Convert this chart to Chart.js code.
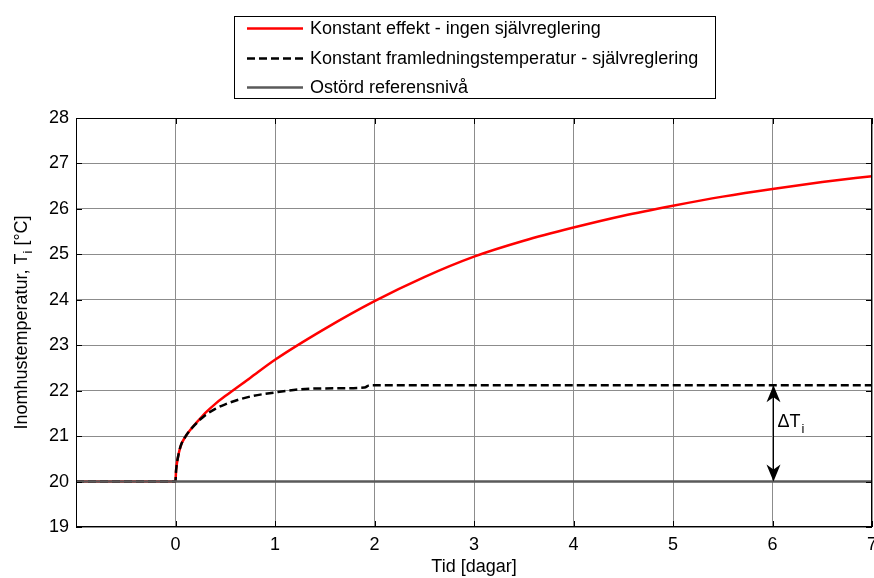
<!DOCTYPE html>
<html>
<head>
<meta charset="utf-8">
<title>Inomhustemperatur</title>
<script src="https://cdn.jsdelivr.net/npm/chart.js@4.4.1/dist/chart.umd.min.js"></script>
<style>
  html, body { margin: 0; padding: 0; background: #fff; }
  #wrap { width: 874px; height: 578px; }
</style>
</head>
<body>
<div id="wrap"><canvas id="chart" width="874" height="578"></canvas></div>
<script>
/* -------- DATA -------- */
const seriesLabels = [
    'Konstant effekt - ingen självreglering',
    'Konstant framledningstemperatur - självreglering',
    'Ostörd referensnivå'
];

// constant power, no self-regulation
const effektDays = [-1, 0, 0.005, 0.01, 0.02, 0.05, 0.1, 0.15, 0.2, 0.25, 0.3, 0.4, 0.5, 0.75, 1, 1.5, 2, 2.5, 3, 3.5, 4, 4.5, 5, 5.5, 6, 6.5, 7];
const effektTemp = [20, 20, 20.22, 20.33, 20.48, 20.77, 20.99, 21.14, 21.27, 21.39, 21.51, 21.71, 21.88, 22.28, 22.68, 23.36, 23.97, 24.5, 24.95, 25.3, 25.59, 25.85, 26.07, 26.27, 26.44, 26.59, 26.72];

// constant supply temperature, self-regulation
const framDays = [-1, 0, 0.005, 0.01, 0.02, 0.05, 0.1, 0.15, 0.2, 0.25, 0.3, 0.4, 0.5, 0.75, 1, 1.25, 1.5, 1.9, 1.95, 7];
const framTemp = [20, 20, 20.22, 20.33, 20.48, 20.77, 20.99, 21.14, 21.26, 21.37, 21.46, 21.6, 21.7, 21.87, 21.96, 22.03, 22.05, 22.07, 22.12, 22.12];

// undisturbed reference level
const refDays = [-1, 7];
const refTemp = [20, 20];

const xTicks = [0, 1, 2, 3, 4, 5, 6, 7];
const yTicks = [19, 20, 21, 22, 23, 24, 25, 26, 27, 28];

// delta T arrow
const deltaDay = 6;
const deltaLabelTemp = 21.3;

/* -------- STYLE -------- */
const FONT = '"Liberation Sans", Arial, sans-serif';
Chart.defaults.font.family = FONT;
Chart.defaults.font.size = 18;
Chart.defaults.color = '#000';

const toPoints = (xs, ys) => xs.map((d, i) => ({ x: d, y: ys[i] }));

/* -------- FRAME, LEGEND, LABELS -------- */
const decorations = {
    id: 'decorations',
    afterDatasetsDraw(chart) {
        const { ctx, chartArea: a, scales: { x, y } } = chart;
        ctx.save();

        // inner tick marks on all four sides
        ctx.strokeStyle = '#000';
        ctx.lineWidth = 1;
        ctx.beginPath();
        xTicks.forEach(v => {
            const px = Math.round(x.getPixelForValue(v)) + 0.5;
            ctx.moveTo(px, a.bottom); ctx.lineTo(px, a.bottom - 6);
            ctx.moveTo(px, a.top); ctx.lineTo(px, a.top + 6);
        });
        yTicks.forEach(v => {
            const py = Math.round(y.getPixelForValue(v)) + 0.5;
            ctx.moveTo(a.left, py); ctx.lineTo(a.left + 6, py);
            ctx.moveTo(a.right, py); ctx.lineTo(a.right - 6, py);
        });
        ctx.stroke();

        // axes box
        ctx.strokeRect(a.left + 0.5, a.top + 0.5, a.width - 1, a.height - 1);

        // double arrow between reference level and settled temperature
        const ax = Math.round(x.getPixelForValue(deltaDay)) + 0.5;
        const yLow = y.getPixelForValue(refTemp[0]);
        const yHigh = y.getPixelForValue(framTemp[framTemp.length - 1]);
        ctx.beginPath();
        ctx.moveTo(ax, yHigh + 10);
        ctx.lineTo(ax, yLow - 10);
        ctx.stroke();
        ctx.fillStyle = '#000';
        const head = (tip, dir) => {
            ctx.beginPath();
            ctx.moveTo(ax, tip);
            ctx.lineTo(ax - 7, tip + dir * 17);
            ctx.lineTo(ax, tip + dir * 12);
            ctx.lineTo(ax + 7, tip + dir * 17);
            ctx.closePath();
            ctx.fill();
        };
        head(yHigh, 1);
        head(yLow, -1);

        // delta label
        const ly = y.getPixelForValue(deltaLabelTemp);
        ctx.font = '18px ' + FONT;
        ctx.textBaseline = 'middle';
        ctx.textAlign = 'left';
        ctx.fillText('\u0394T', ax + 4, ly);
        const w = ctx.measureText('\u0394T').width;
        ctx.font = '13px ' + FONT;
        ctx.fillText('i', ax + 4 + w + 1, ly + 7);

        // y axis title with subscript
        ctx.save();
        ctx.translate(22, (a.top + a.bottom) / 2);
        ctx.rotate(-Math.PI / 2);
        const parts = [
            { t: 'Inomhustemperatur, T', f: '18px ' + FONT, dy: 0 },
            { t: 'i', f: '13px ' + FONT, dy: 6 },
            { t: ' [\u00B0C]', f: '18px ' + FONT, dy: 0 }
        ];
        let total = 0;
        parts.forEach(p => { ctx.font = p.f; p.w = ctx.measureText(p.t).width; total += p.w; });
        let cx = -total / 2;
        parts.forEach(p => {
            ctx.font = p.f;
            ctx.fillText(p.t, cx, p.dy);
            cx += p.w;
        });
        ctx.restore();

        // legend box
        const lx = 234.5, ltop = 16.5, lw = 481, lh = 82;
        ctx.fillStyle = '#fff';
        ctx.fillRect(lx, ltop, lw, lh);
        ctx.strokeStyle = '#000';
        ctx.lineWidth = 1;
        ctx.strokeRect(lx, ltop, lw, lh);
        const rows = [28, 58, 87];
        chart.data.datasets.forEach((ds, i) => {
            const ry = rows[i] + 0.5;
            ctx.strokeStyle = ds.borderColor;
            ctx.lineWidth = ds.borderWidth;
            ctx.setLineDash(ds.borderDash || []);
            ctx.beginPath();
            ctx.moveTo(247, ry);
            ctx.lineTo(303, ry);
            ctx.stroke();
            ctx.setLineDash([]);
            ctx.fillStyle = '#000';
            ctx.font = '18px ' + FONT;
            ctx.textBaseline = 'middle';
            ctx.fillText(ds.label, 310, rows[i] + 1);
        });

        ctx.restore();
    }
};

/* -------- CHART -------- */
new Chart(document.getElementById('chart'), {
    type: 'line',
    data: {
        datasets: [{
            label: seriesLabels[0],
            data: toPoints(effektDays, effektTemp),
            borderColor: '#ff0000',
            borderWidth: 2.5,
            cubicInterpolationMode: 'monotone',
            pointRadius: 0,
            order: 3
        }, {
            label: seriesLabels[1],
            data: toPoints(framDays, framTemp),
            borderColor: '#000000',
            borderWidth: 2.5,
            borderDash: [8, 4],
            cubicInterpolationMode: 'monotone',
            pointRadius: 0,
            order: 2
        }, {
            label: seriesLabels[2],
            data: toPoints(refDays, refTemp),
            borderColor: '#5a5a5a',
            borderWidth: 2.5,
            pointRadius: 0,
            order: 1
        }]
    },
    options: {
        responsive: false,
        animation: false,
        layout: { padding: { top: 118, right: 2, bottom: 0, left: 0 } },
        plugins: {
            legend: { display: false },
            tooltip: { enabled: false }
        },
        scales: {
            x: {
                type: 'linear',
                min: -1,
                max: 7,
                afterBuildTicks: s => { s.ticks = xTicks.map(v => ({ value: v })); },
                afterFit: s => { s.height = 51; s.paddingLeft = 0; s.paddingRight = 0; },
                grid: { color: '#8c8c8c', lineWidth: 1, drawTicks: false },
                border: { display: false },
                ticks: { padding: 7, font: { size: 18 }, color: '#000', maxRotation: 0 },
                title: { display: true, text: 'Tid [dagar]', font: { size: 18 }, color: '#000', padding: { top: 0, bottom: 0 } }
            },
            y: {
                min: 19,
                max: 28,
                afterBuildTicks: s => { s.ticks = yTicks.map(v => ({ value: v })); },
                afterFit: s => { s.width = 76; s.paddingTop = 0; s.paddingBottom = 0; },
                grid: { color: '#8c8c8c', lineWidth: 1, drawTicks: false },
                border: { display: false },
                ticks: { padding: 7, font: { size: 18 }, color: '#000' }
            }
        }
    },
    plugins: [decorations]
});
</script>
</body>
</html>
